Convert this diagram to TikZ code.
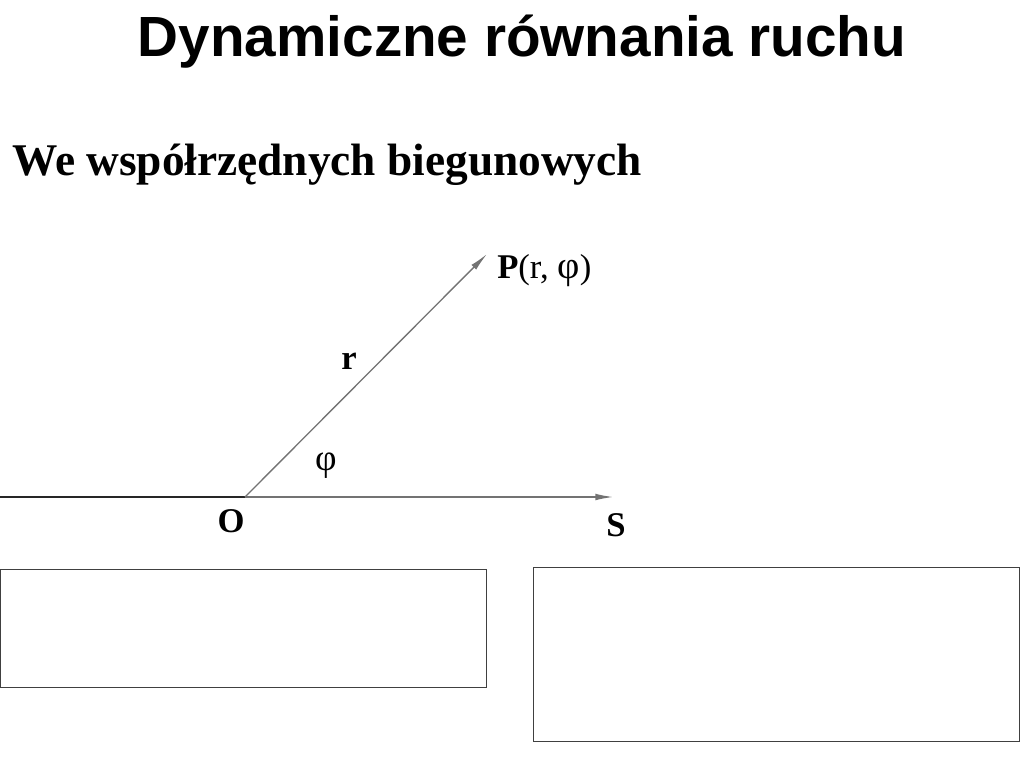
\documentclass[tikz,border=0pt]{standalone}
\usepackage{fontspec}
\setmainfont{Liberation Serif}
\newfontfamily\headfont{Liberation Sans}
\usetikzlibrary{shapes,arrows,arrows.meta}
\usetikzlibrary{calc,positioning}

\begin{document}
\begin{tikzpicture}[x=0.75pt,y=-0.75pt]
    \tikzstyle{lbl} = [inner sep=0pt, font=\fontsize{26}{30}\selectfont\bfseries]
    \tikzstyle{vec} = [draw=black!55, line width=1.4pt, -{Latex[length=14pt,width=5pt]}]
    \tikzstyle{frame} = [draw=black!75, line width=0.8pt]

    \useasboundingbox (0,0) rectangle (1024,768);

    % Headings .........................
    \node[inner sep=0pt, font=\headfont\fontsize{42.5}{50}\selectfont\bfseries] (title) at (522,42) {Dynamiczne równania ruchu};
    \node[inner sep=0pt, anchor=base west, font=\fontsize{34}{40}\selectfont\bfseries] (sub) at (12,175) {We współrzędnych biegunowych};

    % Polar diagram .........................
    \coordinate (l) at (0,497);
    \coordinate (o) at (245,497);
    \coordinate (p) at (487,254);
    \coordinate (s) at (614,497);

    \draw[black!85, line width=0.9pt] (l) -- (o);
    \draw[vec] (o) -- (s);
    \draw[vec, line width=1pt] (o) -- (p);

    \node[lbl, anchor=west] (pl) at (497,271) {P\mdseries(r, {\fontsize{29}{30}\selectfont φ})};
    \node[lbl] (rl) at (349,361) {r};
    \node[lbl, font=\fontsize{28}{30}\selectfont] (phil) at (326,466) {φ};
    \node[lbl] (ol) at (231,521) {O};
    \node[lbl] (sl) at (616,525) {S};

    % Empty boxes .........................
    \node[frame, minimum width=486*0.75pt, minimum height=118*0.75pt, anchor=north west] (b1) at (0,569) {};
    \node[frame, minimum width=486*0.75pt, minimum height=174*0.75pt, anchor=north west] (b2) at (533,567) {};
\end{tikzpicture}
\end{document}
